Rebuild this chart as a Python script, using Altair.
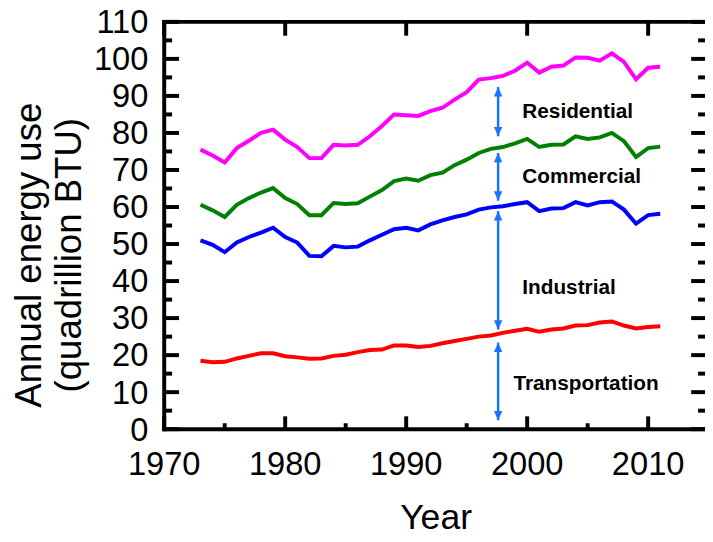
import altair as alt
import pandas as pd

# ---------------- data (cumulative annual energy use, quadrillion BTU) ----------------
years = list(range(1973, 2012))

transportation = [18.5, 18.1, 18.2, 19.1, 19.8, 20.5, 20.5, 19.7, 19.4, 19.0,
                  19.1, 19.8, 20.1, 20.8, 21.4, 21.5, 22.6, 22.6, 22.2, 22.5,
                  23.2, 23.8, 24.4, 25.0, 25.3, 26.0, 26.6, 27.1, 26.3, 26.9,
                  27.2, 28.0, 28.1, 28.8, 29.1, 28.0, 27.2, 27.6, 27.8]
industrial = [51.0, 49.8, 47.8, 50.4, 51.9, 53.1, 54.4, 51.9, 50.4, 46.8,
              46.7, 49.5, 49.1, 49.3, 51.0, 52.5, 54.0, 54.4, 53.7, 55.3,
              56.4, 57.3, 58.0, 59.3, 59.9, 60.2, 60.8, 61.3, 58.9, 59.6,
              59.7, 61.3, 60.4, 61.3, 61.5, 59.3, 55.5, 57.8, 58.2]
commercial = [60.6, 59.1, 57.3, 60.6, 62.4, 63.9, 65.1, 62.4, 60.8, 57.8,
              57.8, 61.1, 60.8, 61.0, 62.8, 64.6, 67.0, 67.7, 67.1, 68.6,
              69.3, 71.3, 72.8, 74.6, 75.7, 76.2, 77.2, 78.4, 76.2, 76.8,
              76.9, 79.1, 78.4, 78.8, 80.0, 77.8, 73.5, 75.9, 76.3]
residential = [75.5, 73.9, 72.0, 75.9, 77.9, 80.0, 80.9, 78.2, 76.2, 73.2,
               73.2, 76.8, 76.6, 76.8, 79.1, 81.9, 85.0, 84.8, 84.6, 85.9,
               86.8, 89.0, 91.0, 94.4, 94.8, 95.4, 96.8, 99.0, 96.3, 97.9,
               98.2, 100.4, 100.3, 99.5, 101.5, 99.2, 94.5, 97.6, 97.9]

sectors = ["Transportation", "Industrial", "Commercial", "Residential"]
line_colors = ["#ff0000", "#0000ff", "#008000", "#ff00ff"]

# annotation arrows (between the cumulative curves) and their labels
arrow_year = 1997.6
arrow_low = [2.4, 26.9, 61.7, 79.1]
arrow_high = [23.4, 58.9, 74.6, 92.4]
label_year = 1999.6
label_value = [12.3, 38.1, 68.2, 85.7]

x_major = [1970, 1980, 1990, 2000, 2010]
x_minor = [1975, 1985, 1995, 2005]
y_major = [0, 10, 20, 30, 40, 50, 60, 70, 80, 90, 100, 110]
y_minor = [5, 15, 25, 35, 45, 55, 65, 75, 85, 95, 105]

x_title = "Year"
y_title = ["Annual energy use", "(quadrillion BTU)"]

# ---------------- tables ----------------
rows = []
for name, vals in zip(sectors, [transportation, industrial, commercial, residential]):
    for yr, v in zip(years, vals):
        rows.append({"year": yr, "value": v, "sector": name})
df = pd.DataFrame(rows)

arrows = pd.DataFrame({"sector": sectors, "low": arrow_low, "high": arrow_high,
                       "label_value": label_value})
arrows["year"] = arrow_year
arrows["label_year"] = label_year

xmaj_df = pd.DataFrame({"t": x_major})
xmin_df = pd.DataFrame({"t": x_minor})
ymaj_df = pd.DataFrame({"t": y_major})
ymin_df = pd.DataFrame({"t": y_minor})
xt_df = pd.DataFrame({"label": [x_title]})
yt1_df = pd.DataFrame({"label": [y_title[0]]})
yt2_df = pd.DataFrame({"label": [y_title[1]]})

# ---------------- layout ----------------
W = 547
H = 412
ARROW = "#1a73ff"
FONT = "Arial"

xscale = alt.Scale(domain=[1970, 2014.7], nice=False, zero=False)
yscale = alt.Scale(domain=[0, 110], nice=False, zero=False)


def XQ(field):
    return alt.X(field, type="quantitative", scale=xscale, axis=None)


def YQ(field):
    return alt.Y(field, type="quantitative", scale=yscale, axis=None)


lines = alt.Chart(df).mark_line(strokeWidth=4).encode(
    x=XQ("year"),
    y=YQ("value"),
    color=alt.Color("sector:N", scale=alt.Scale(domain=sectors, range=line_colors),
                    legend=None),
)

# ---- frame, inward tick marks, placed through the shared scales ----
TK = dict(color="black", strokeWidth=4)


def xticks(data, y0, y1):
    return alt.Chart(data).mark_rule(**TK).encode(
        x=XQ("t"), y=alt.value(y0), y2=alt.value(y1))


def yticks(data, x0, x1):
    return alt.Chart(data).mark_rule(**TK).encode(
        y=YQ("t"), x=alt.value(x0), x2=alt.value(x1))


ticks = [
    xticks(xmaj_df, H, H - 13),     # bottom major
    xticks(xmin_df, H, H - 6),      # bottom minor
    xticks(xmaj_df, 0, 14),         # top major
    yticks(ymaj_df, 0, 15),         # left major
    yticks(ymin_df, 0, 8),          # left minor
    yticks(ymaj_df, W, W - 14),     # right major
    yticks(ymin_df, W, W - 7),      # right minor
]

FR = dict(strokeCap="square", **TK)
top_frame = alt.Chart(xt_df).mark_rule(**FR).encode(
    x=alt.value(0), x2=alt.value(W), y=alt.value(0))
bottom_frame = alt.Chart(xt_df).mark_rule(**FR).encode(
    x=alt.value(0), x2=alt.value(W), y=alt.value(H))
left_frame = alt.Chart(xt_df).mark_rule(**FR).encode(
    x=alt.value(0), y=alt.value(0), y2=alt.value(H))

# ---- tick labels and axis titles as text ----
LBL = dict(font=FONT, fontSize=33, color="black")
xlabels = alt.Chart(xmaj_df).mark_text(align="center", baseline="top", **LBL).encode(
    x=XQ("t"), y=alt.value(H + 20), text=alt.Text("t:Q", format="d"))
ylabels = alt.Chart(ymaj_df).mark_text(align="right", baseline="middle", dy=1.5,
                                       **LBL).encode(
    y=YQ("t"), x=alt.value(-16), text=alt.Text("t:Q", format="d"))

TT = dict(font=FONT, color="black", align="center", baseline="middle")
xtitle = alt.Chart(xt_df).mark_text(fontSize=36, **TT).encode(
    x=alt.value(275), y=alt.value(H + 90), text="label:N")
ytitle1 = alt.Chart(yt1_df).mark_text(fontSize=37, angle=270, **TT).encode(
    x=alt.value(-136), y=alt.value(236), text="label:N")
ytitle2 = alt.Chart(yt2_df).mark_text(fontSize=37, angle=270, **TT).encode(
    x=alt.value(-95), y=alt.value(236), text="label:N")

# ---- annotation arrows ----
rules = alt.Chart(arrows).mark_rule(color=ARROW, strokeWidth=2.5).encode(
    x=XQ("year"), y=YQ("low"), y2="high:Q",
)

UP = "M0,0L-0.85,1.9L0.85,1.9Z"
DOWN = "M0,0L-0.85,-1.9L0.85,-1.9Z"

heads_up = alt.Chart(arrows).mark_point(shape=UP, size=100, filled=True,
                                        color=ARROW, opacity=1, strokeWidth=0).encode(
    x=XQ("year"), y=YQ("high"),
)

heads_down = alt.Chart(arrows).mark_point(shape=DOWN, size=100, filled=True,
                                          color=ARROW, opacity=1, strokeWidth=0).encode(
    x=XQ("year"), y=YQ("low"),
)

text_style = dict(align="left", baseline="middle", font=FONT, fontSize=21,
                  fontWeight="bold", color="black")

labels = alt.Chart(arrows).transform_filter(
    alt.datum.sector != "Transportation"
).mark_text(**text_style).encode(
    x=XQ("label_year"), y=YQ("label_value"), text="sector:N",
)

label_tr = alt.Chart(arrows).transform_filter(
    alt.datum.sector == "Transportation"
).mark_text(dx=-9, **text_style).encode(
    x=XQ("label_year"), y=YQ("label_value"), text="sector:N",
)

chart = alt.layer(lines, top_frame, bottom_frame, left_frame, *ticks,
                  rules, heads_up, heads_down, labels, label_tr,
                  xlabels, ylabels, xtitle, ytitle1, ytitle2).properties(
    width=W, height=H,
    autosize=alt.AutoSizeParams(type="none", contains="content"),
    padding={"left": 158, "top": 11, "right": 0, "bottom": 103},
    background="white",
).configure_view(stroke=None)

chart.save("out.html", embed_options={"renderer": "svg", "actions": False})
